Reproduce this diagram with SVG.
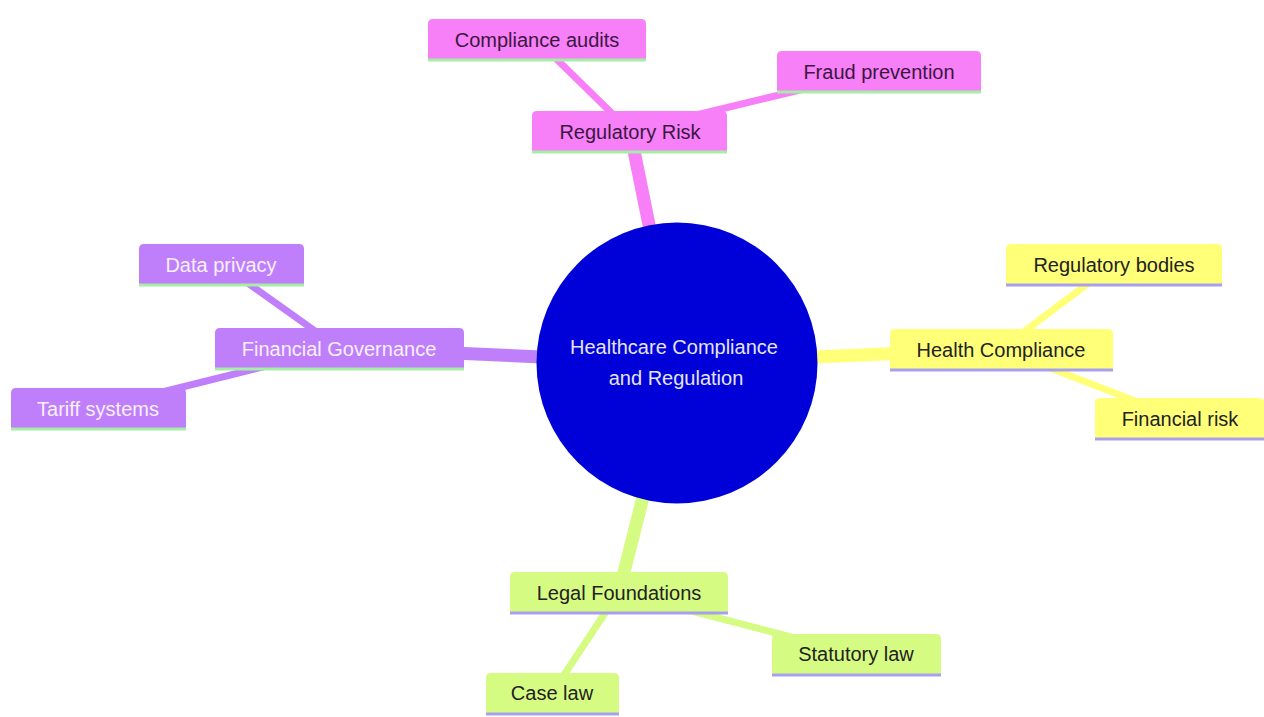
<svg xmlns="http://www.w3.org/2000/svg" width="1264" height="717" viewBox="0 0 1264 717">
<style>
text{font-family:"Liberation Sans",Arial,sans-serif;font-size:20px;text-anchor:middle}
.e1{stroke-width:13;stroke-linecap:butt;fill:none}
.e2{stroke-width:7;stroke-linecap:butt;fill:none}
.pk{fill:#f77ff7;stroke:#f77ff7}
.yl{fill:#ffff78;stroke:#ffff78}
.pu{fill:#c07ffa;stroke:#c07ffa}
.gr{fill:#d6fb83;stroke:#d6fb83}
.e1.pk,.e2.pk,.e1.yl,.e2.yl,.e1.pu,.e2.pu,.e1.gr,.e2.gr{fill:none}
.n{stroke:none}
.lg{stroke:#a6eea6;stroke-width:3}
.ll{stroke:#a8a0ee;stroke-width:3}
.tpk{fill:#3a1740}
.tyl{fill:#222}
.tpu{fill:#f6f0ff}
.tgr{fill:#222}
</style>
<rect width="1264" height="717" fill="#ffffff"/>
<g id="edges">
<line class="e1 pk" x1="677" y1="363" x2="630" y2="131"/>
<line class="e2 pk" x1="630" y1="131" x2="537" y2="40"/>
<line class="e2 pk" x1="630" y1="131" x2="879" y2="71"/>
<line class="e1 yl" x1="677" y1="363" x2="1001" y2="349"/>
<line class="e2 yl" x1="1001" y1="349" x2="1114" y2="264"/>
<line class="e2 yl" x1="1001" y1="349" x2="1179" y2="418"/>
<line class="e1 pu" x1="677" y1="363" x2="339" y2="348"/>
<line class="e2 pu" x1="339" y1="348" x2="221" y2="264"/>
<line class="e2 pu" x1="339" y1="348" x2="98" y2="408"/>
<line class="e1 gr" x1="677" y1="363" x2="619" y2="592"/>
<line class="e2 gr" x1="619" y1="592" x2="856" y2="654"/>
<line class="e2 gr" x1="619" y1="592" x2="552" y2="693"/>
</g>
<g id="root">
<circle cx="677" cy="363" r="140.5" fill="#0000d8"/>
<text x="674" y="354" fill="#e4e4f0">Healthcare Compliance</text>
<text x="676" y="385" fill="#e4e4f0">and Regulation</text>
</g>
<g id="regulatory-risk">
<path class="pk n" d="M532,152 V116 Q532,111 537,111 H722 Q727,111 727,116 V152 Z"/>
<line class="lg" x1="532" y1="152" x2="727" y2="152"/>
<text class="tpk" x="630" y="139">Regulatory Risk</text>
</g>
<g id="compliance-audits">
<path class="pk n" d="M428,60 V24 Q428,19 433,19 H641 Q646,19 646,24 V60 Z"/>
<line class="lg" x1="428" y1="60" x2="646" y2="60"/>
<text class="tpk" x="537" y="47">Compliance audits</text>
</g>
<g id="fraud-prevention">
<path class="pk n" d="M777,92 V56 Q777,51 782,51 H976 Q981,51 981,56 V92 Z"/>
<line class="lg" x1="777" y1="92" x2="981" y2="92"/>
<text class="tpk" x="879" y="79">Fraud prevention</text>
</g>
<g id="health-compliance">
<path class="yl n" d="M890,370 V334 Q890,329 895,329 H1108 Q1113,329 1113,334 V370 Z"/>
<line class="ll" x1="890" y1="370" x2="1113" y2="370"/>
<text class="tyl" x="1001" y="357">Health Compliance</text>
</g>
<g id="regulatory-bodies">
<path class="yl n" d="M1006,285 V249 Q1006,244 1011,244 H1217 Q1222,244 1222,249 V285 Z"/>
<line class="ll" x1="1006" y1="285" x2="1222" y2="285"/>
<text class="tyl" x="1114" y="272">Regulatory bodies</text>
</g>
<g id="financial-risk">
<path class="yl n" d="M1095,439 V403 Q1095,398 1100,398 H1259 Q1264,398 1264,403 V439 Z"/>
<line class="ll" x1="1095" y1="439" x2="1264" y2="439"/>
<text class="tyl" x="1180" y="426">Financial risk</text>
</g>
<g id="financial-governance">
<path class="pu n" d="M215,369 V333 Q215,328 220,328 H459 Q464,328 464,333 V369 Z"/>
<line class="lg" x1="215" y1="369" x2="464" y2="369"/>
<text class="tpu" x="339" y="356">Financial Governance</text>
</g>
<g id="data-privacy">
<path class="pu n" d="M139,285 V249 Q139,244 144,244 H299 Q304,244 304,249 V285 Z"/>
<line class="lg" x1="139" y1="285" x2="304" y2="285"/>
<text class="tpu" x="221" y="272">Data privacy</text>
</g>
<g id="tariff-systems">
<path class="pu n" d="M11,429 V393 Q11,388 16,388 H181 Q186,388 186,393 V429 Z"/>
<line class="lg" x1="11" y1="429" x2="186" y2="429"/>
<text class="tpu" x="98" y="416">Tariff systems</text>
</g>
<g id="legal-foundations">
<path class="gr n" d="M510,613 V577 Q510,572 515,572 H723 Q728,572 728,577 V613 Z"/>
<line class="ll" x1="510" y1="613" x2="728" y2="613"/>
<text class="tgr" x="619" y="600">Legal Foundations</text>
</g>
<g id="statutory-law">
<path class="gr n" d="M772,675 V639 Q772,634 777,634 H936 Q941,634 941,639 V675 Z"/>
<line class="ll" x1="772" y1="675" x2="941" y2="675"/>
<text class="tgr" x="856" y="661">Statutory law</text>
</g>
<g id="case-law">
<path class="gr n" d="M486,714 V678 Q486,673 491,673 H614 Q619,673 619,678 V714 Z"/>
<line class="ll" x1="486" y1="714" x2="619" y2="714"/>
<text class="tgr" x="552" y="700">Case law</text>
</g>
</svg>
